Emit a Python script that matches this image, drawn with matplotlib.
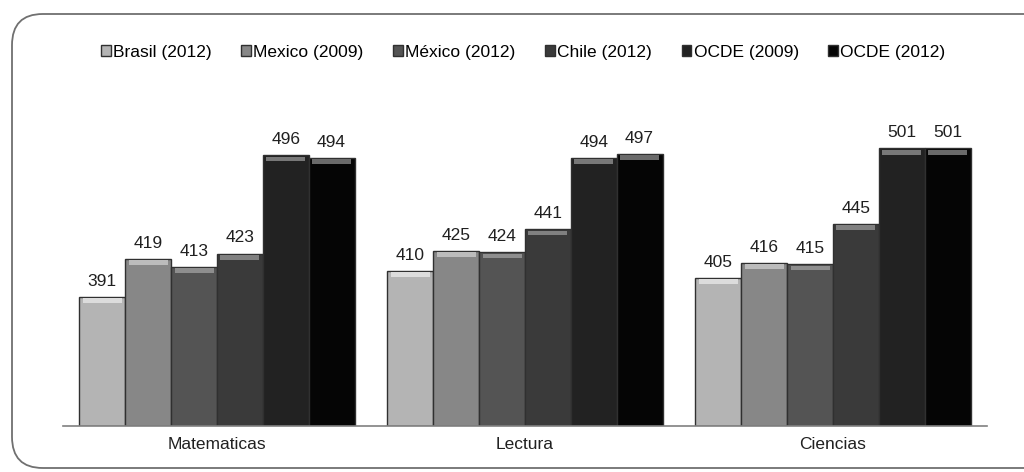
import numpy as np
import matplotlib
matplotlib.use("Agg")
from matplotlib import pyplot as plt
from matplotlib.patches import FancyBboxPatch

plt.rcParams['font.family'] = ['Liberation Sans', 'DejaVu Sans']

categories = ["Matematicas", "Lectura", "Ciencias"]
series = ["Brasil (2012)", "Mexico (2009)", "México (2012)", "Chile (2012)", "OCDE (2009)", "OCDE (2012)"]
brasil_2012 = [391, 410, 405]
mexico_2009 = [419, 425, 416]
mexico_2012 = [413, 424, 415]
chile_2012 = [423, 441, 445]
ocde_2009 = [496, 494, 501]
ocde_2012 = [494, 497, 501]

values = [brasil_2012, mexico_2009, mexico_2012, chile_2012, ocde_2009, ocde_2012]
colors = ['#b4b4b4', '#878787', '#545454', '#3a3a3a', '#222222', '#050505']
tops = ['#dcdcdc', '#bcbcbc', '#8e8e8e', '#808080', '#787878', '#6a6a6a']

fig = plt.figure(figsize=(10.24, 4.72), dpi=100)
ax = fig.add_axes([63 / 1024, 46 / 472, 924 / 1024, 326 / 472])

# rounded frame around the chart
frame = FancyBboxPatch((12 / 1024, 4 / 472), 1.05, 454 / 472,
                       boxstyle="round,pad=0,rounding_size=0.03",
                       transform=fig.transFigure, fill=False,
                       edgecolor='#707070', linewidth=1.3, mutation_aspect=2.2)
fig.patches.append(frame)

x = np.arange(len(categories))
n = len(series)
width = 0.893 / n
ymin = 295

for i, (name, vals) in enumerate(zip(series, values)):
    pos = x - 0.893 / 2 + width * (i + 0.5)
    vals = np.array(vals)
    ax.bar(pos, vals - ymin, bottom=ymin, width=width, color=colors[i],
           edgecolor='#303030', linewidth=1.0, label=name)
    # bevel highlight at the top of each bar
    ax.bar(pos, np.full(len(vals), 3.5), bottom=vals - 4.5, width=width * 0.85,
           color=tops[i], linewidth=0)
    for p, v in zip(pos, vals):
        ax.text(p, v + 6, str(v), ha='center', va='bottom', fontsize=12.5, color='#202020')

ax.set_xlim(-0.5, 2.5)
ax.set_ylim(ymin, 537)
ax.set_xticks(x)
ax.set_xticklabels(categories, fontsize=12.5, color='#202020')
ax.tick_params(axis='x', length=0, pad=8)
ax.set_yticks([])
for s in ['top', 'right', 'left']:
    ax.spines[s].set_visible(False)
ax.spines['bottom'].set_color('#808080')
ax.spines['bottom'].set_linewidth(1.2)

handles, labels = ax.get_legend_handles_labels()
fig.legend(handles, labels, loc='center', bbox_to_anchor=(0.511, 1 - 52 / 472),
           ncol=6, frameon=False, fontsize=12.5, handlelength=0.55, handleheight=0.55,
           handletextpad=0.15, columnspacing=1.7)

fig.savefig("out.png", dpi=100, facecolor='white')
